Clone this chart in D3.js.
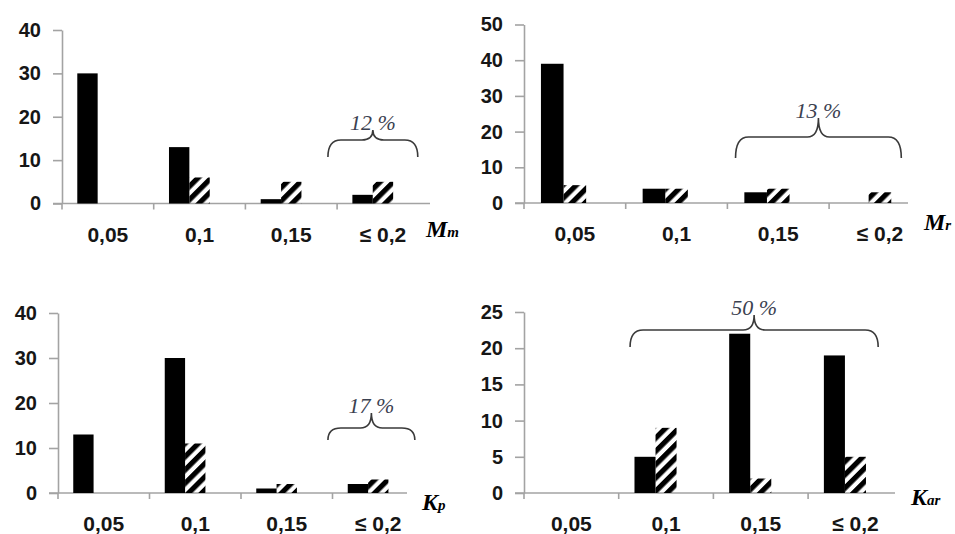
<!DOCTYPE html>
<html>
<head>
<meta charset="utf-8">
<script src="https://cdn.jsdelivr.net/npm/d3@7"></script>
<style>
  body { margin: 0; background: #fff; }
  svg { display: block; }
</style>
</head>
<body>
<script>
// categories shared by all four panels
var categories = ["0,05", "0,1", "0,15", "≤ 0,2"];

// M_m
var mmSolid = [30, 13, 1, 2];
var mmHatched = [0, 6, 5, 5];
var mmTicks = [0, 10, 20, 30, 40];

// M_r
var mrSolid = [39, 4, 3, 0];
var mrHatched = [5, 4, 4, 3];
var mrTicks = [0, 10, 20, 30, 40, 50];

// K_p
var kpSolid = [13, 30, 1, 2];
var kpHatched = [0, 11, 2, 3];
var kpTicks = [0, 10, 20, 30, 40];

// K_ar
var karSolid = [0, 5, 22, 19];
var karHatched = [0, 9, 2, 5];
var karTicks = [0, 5, 10, 15, 20, 25];

var axisNames = [["M", "m"], ["M", "r"], ["K", "p"], ["K", "ar"]];
var notes = ["12 %", "13 %", "17 %", "50 %"];

var panels = [
  { solid: mmSolid, hatched: mmHatched, ticks: mmTicks, name: axisNames[0], note: notes[0] },
  { solid: mrSolid, hatched: mrHatched, ticks: mrTicks, name: axisNames[1], note: notes[1] },
  { solid: kpSolid, hatched: kpHatched, ticks: kpTicks, name: axisNames[2], note: notes[2] },
  { solid: karSolid, hatched: karHatched, ticks: karTicks, name: axisNames[3], note: notes[3] }
];

// where each panel sits on the page
var layout = [
  { left: 62, bottom: 203.5, top: 30, bw: 91.7, axisEnd: 430, label: [426, 237],
    brace: { from: 2.9, to: 3.88, tip: 130, line: 140, end: 157 } },
  { left: 524, bottom: 203, top: 24.5, bw: 101.7, axisEnd: 908, label: [924, 230],
    brace: { from: 2.08, to: 3.71, tip: 118, line: 137, end: 158 } },
  { left: 58, bottom: 493, top: 313, bw: 91.5, axisEnd: 407, label: [422, 510],
    brace: { from: 2.95, to: 3.9, tip: 413, line: 428, end: 440 } },
  { left: 524, bottom: 493, top: 312, bw: 94.7, axisEnd: 895, label: [911, 505],
    brace: { from: 1.12, to: 3.74, tip: 315, line: 330, end: 347 } }
];

var W = 955, H = 534;
var axisColor = "#a3a3a3";
var textColor = "#161616";
var sansFont = "'Liberation Sans', Arial, sans-serif";
var serifFont = "'Liberation Serif', 'Times New Roman', serif";

var svg = d3.select("body").append("svg")
  .attr("width", W)
  .attr("height", H);

svg.append("defs").append("pattern")
  .attr("id", "hatch")
  .attr("patternUnits", "userSpaceOnUse")
  .attr("width", 9.4)
  .attr("height", 9.4)
  .attr("patternTransform", "rotate(45)")
  .append("rect")
  .attr("width", 5.2)
  .attr("height", 9.4)
  .attr("fill", "#000");

panels.forEach(function (p, i) {
  var L = layout[i];
  var g = svg.append("g");

  var x = d3.scaleBand().domain(categories).range([L.left, L.left + categories.length * L.bw]);
  // three slots per category (third series empty), Excel gap width 150%
  var xs = d3.scaleBand().domain(["solid", "hatched", "empty"])
    .range([0, x.bandwidth()]).paddingInner(0).paddingOuter(0.75);
  var y = d3.scaleLinear().domain([0, d3.max(p.ticks)]).range([L.bottom, L.top]);

  // y axis
  var ya = g.append("g")
    .attr("transform", "translate(" + L.left + ",0)")
    .call(d3.axisLeft(y).tickValues(p.ticks).tickSize(9).tickPadding(12).tickSizeOuter(0));
  ya.select(".domain").attr("stroke", axisColor).attr("stroke-width", 1.6);
  ya.selectAll(".tick line").attr("stroke", axisColor).attr("stroke-width", 1.6);
  ya.selectAll(".tick text")
    .attr("fill", textColor)
    .style("font-family", sansFont)
    .style("font-weight", "bold")
    .style("font-size", "20px");

  // x axis line + ticks at category boundaries
  g.append("line")
    .attr("x1", L.left - 9).attr("x2", L.axisEnd)
    .attr("y1", y(0)).attr("y2", y(0))
    .attr("stroke", axisColor).attr("stroke-width", 1.6);

  g.selectAll(".xtick")
    .data(categories)
    .enter()
    .append("line")
    .attr("x1", function (d) { return x(d); })
    .attr("x2", function (d) { return x(d); })
    .attr("y1", y(0))
    .attr("y2", y(0) + 6)
    .attr("stroke", axisColor).attr("stroke-width", 1.6);

  g.selectAll(".xlab")
    .data(categories)
    .enter()
    .append("text")
    .attr("x", function (d) { return x(d) + x.bandwidth() / 2; })
    .attr("y", y(0) + 38)
    .attr("text-anchor", "middle")
    .attr("fill", textColor)
    .style("font-family", sansFont)
    .style("font-weight", "bold")
    .style("font-size", "21px")
    .text(function (d) { return d; });

  // bars
  g.selectAll(".solid")
    .data(p.solid)
    .enter()
    .append("rect")
    .attr("x", function (d, j) { return x(categories[j]) + xs("solid"); })
    .attr("y", function (d) { return y(d); })
    .attr("width", xs.bandwidth())
    .attr("height", function (d) { return y(0) - y(d); })
    .attr("fill", "#000");

  g.selectAll(".hatched")
    .data(p.hatched)
    .enter()
    .append("rect")
    .attr("x", function (d, j) { return x(categories[j]) + xs("hatched"); })
    .attr("y", function (d) { return y(d); })
    .attr("width", xs.bandwidth())
    .attr("height", function (d) { return y(0) - y(d); })
    .attr("fill", "url(#hatch)");

  // brace with percentage
  var b = L.brace;
  var x0 = L.left + b.from * L.bw, x1 = L.left + b.to * L.bw, xm = (x0 + x1) / 2;
  var r = 13, r2 = 11;
  var path = "M" + x0 + "," + b.end +
    " Q" + x0 + "," + b.line + " " + (x0 + r) + "," + b.line +
    " L" + (xm - r2) + "," + b.line +
    " Q" + xm + "," + b.line + " " + xm + "," + b.tip +
    " Q" + xm + "," + b.line + " " + (xm + r2) + "," + b.line +
    " L" + (x1 - r) + "," + b.line +
    " Q" + x1 + "," + b.line + " " + x1 + "," + b.end;
  g.append("path")
    .attr("d", path)
    .attr("fill", "none")
    .attr("stroke", "#3a3a3a")
    .attr("stroke-width", 1.6);

  g.append("text")
    .attr("x", xm)
    .attr("y", b.tip)
    .attr("text-anchor", "middle")
    .attr("fill", "#3b4150")
    .style("font-family", serifFont)
    .style("font-style", "italic")
    .style("font-size", "22px")
    .text(p.note);

  // axis name, e.g. M with subscript m
  var t = g.append("text")
    .attr("x", L.label[0])
    .attr("y", L.label[1])
    .attr("fill", "#000")
    .style("font-family", serifFont)
    .style("font-style", "italic")
    .style("font-weight", "bold");
  t.append("tspan").style("font-size", "24px").text(p.name[0]);
  t.append("tspan").style("font-size", "15px").text(p.name[1]);
});
</script>
</body>
</html>
